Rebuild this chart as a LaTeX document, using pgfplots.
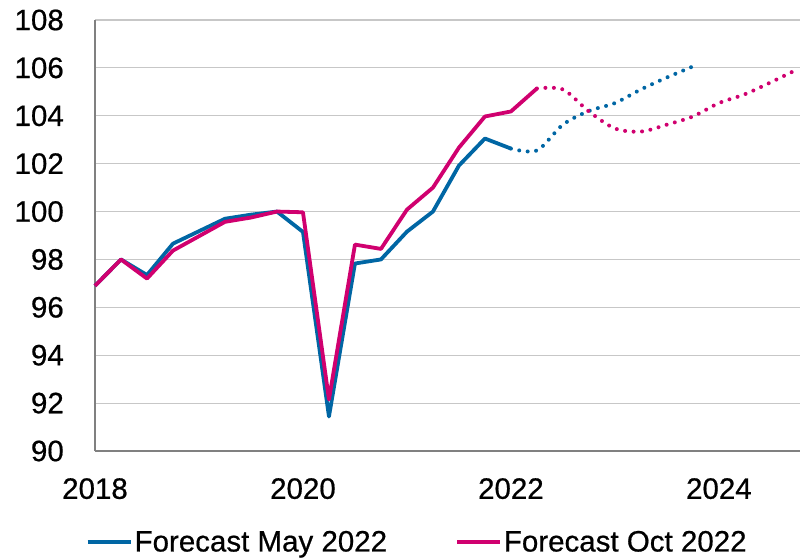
\documentclass[border=0pt]{standalone}
\usepackage{pgfplots}
\pgfplotsset{compat=1.18}
\usepackage{fontspec}
\setmainfont[FakeBold=0.6]{Liberation Sans}
\definecolor{mayblue}{RGB}{0,102,164}
\definecolor{octred}{RGB}{208,0,111}
\newcommand{\chartfont}{\fontsize{29.5bp}{35bp}\selectfont}
\begin{document}
\begin{tikzpicture}
\useasboundingbox (0,0) rectangle (807bp,558bp);
\begin{axis}[
    at={(95bp,107bp)}, anchor=south west,
    scale only axis, width=705bp, height=431bp,
    xmin=2018, xmax=2024.78,
    ymin=90, ymax=108,
    xtick={2018,2020,2022,2024},
    ytick={90,92,...,108},
    /pgf/number format/assume math mode=true,
    /pgf/number format/1000 sep={},
    axis x line=bottom, axis y line=left,
    axis line style={-, draw=black!50, line width=1.2bp},
    major tick length=0pt,
    ymajorgrids,
    grid style={draw=black!22, line width=1.2bp},
    tick label style={font=\chartfont, inner sep=0pt},
    yticklabel style={anchor=east, xshift=-31bp},
    xticklabel style={anchor=north, yshift=-27bp},
    legend columns=2,
    legend style={at={(0.457,-0.211)}, anchor=center, draw=none, fill=none,
        font=\chartfont, inner sep=0pt, nodes={inner sep=2bp},
        /tikz/every even column/.append style={column sep=66bp}},
    legend image code/.code={\draw[#1] (0bp,0bp) -- (43bp,0bp);},
    clip=false,
]
% outturn and forecast, May 2022
\addplot[mayblue, line width=3.8bp, line join=round] coordinates {
    (2018.00,96.90) (2018.25,98.00) (2018.50,97.35) (2018.75,98.66)
    (2019.00,99.18) (2019.25,99.70) (2019.50,99.87) (2019.75,100.00)
    (2020.00,99.15) (2020.25,91.44) (2020.50,97.83) (2020.75,98.00)
    (2021.00,99.16) (2021.25,100.00) (2021.50,101.92) (2021.75,103.05)
    (2022.00,102.63)
};
\addlegendentry{Forecast May 2022}
% outturn and forecast, Oct 2022
\addplot[octred, line width=3.8bp, line join=round] coordinates {
    (2018.00,96.90) (2018.25,98.00) (2018.50,97.20) (2018.75,98.37)
    (2019.00,98.97) (2019.25,99.57) (2019.50,99.75) (2019.75,100.00)
    (2020.00,99.97) (2020.25,92.15) (2020.50,98.62) (2020.75,98.44)
    (2021.00,100.08) (2021.25,101.00) (2021.50,102.67) (2021.75,103.97)
    (2022.00,104.18) (2022.25,105.14)
};
\addlegendentry{Forecast Oct 2022}
% forecast parts, dotted
\addplot[mayblue, line width=4bp, line cap=round, dash pattern=on 0pt off 8.5bp, smooth, forget plot] coordinates {
    (2022.00,102.63) (2022.25,102.55) (2022.50,103.63) (2022.75,104.20)
    (2023.00,104.53) (2023.25,105.10) (2023.50,105.60) (2023.75,106.06)
};
\addplot[octred, line width=4bp, line cap=round, dash pattern=on 0pt off 8.5bp, smooth, forget plot] coordinates {
    (2022.25,105.14) (2022.50,105.10) (2022.75,104.18) (2023.00,103.47)
    (2023.25,103.34) (2023.50,103.63) (2023.75,103.97) (2024.00,104.53)
    (2024.25,104.90) (2024.50,105.40) (2024.75,105.93)
};
\end{axis}
\end{tikzpicture}
\end{document}
